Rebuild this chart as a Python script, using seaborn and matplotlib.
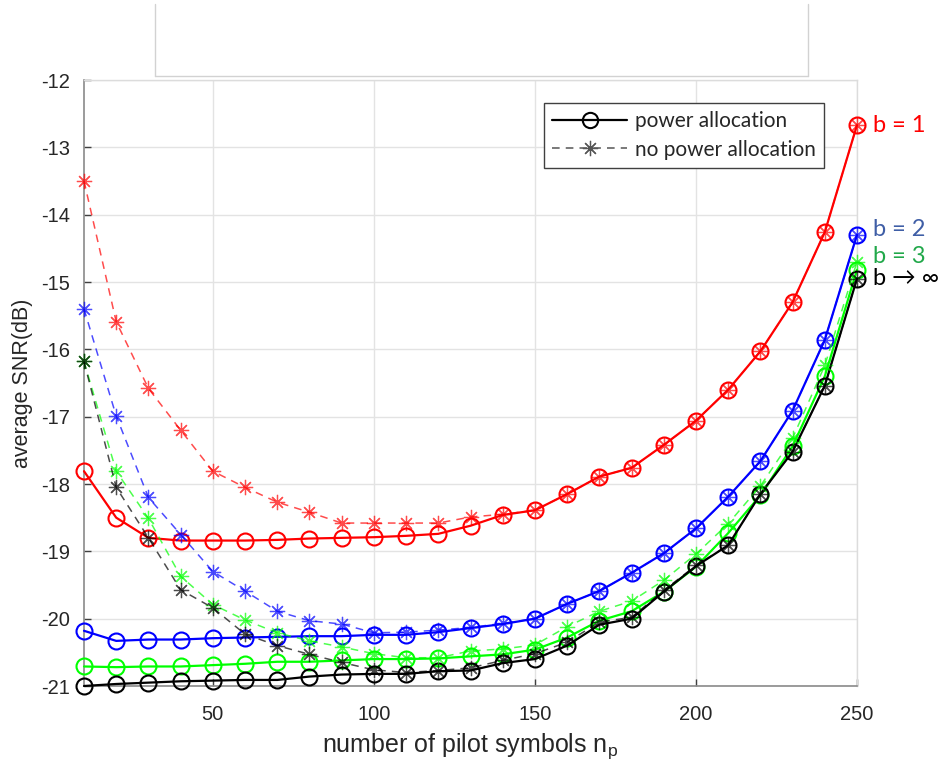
import numpy as np
import pandas as pd
import matplotlib
matplotlib.use("Agg")
import matplotlib.pyplot as plt
from matplotlib.lines import Line2D
import seaborn as sns

# --- data ---
n_pilot = [10, 20, 30, 40, 50, 60, 70, 80, 90, 100, 110, 120, 130,
           140, 150, 160, 170, 180, 190, 200, 210, 220, 230, 240, 250]

# power allocation (solid, circles)
pa_b1 = [-17.81, -18.50, -18.80, -18.84, -18.84, -18.84, -18.83, -18.81, -18.80, -18.79,
         -18.77, -18.74, -18.62, -18.46, -18.39, -18.15, -17.89, -17.76, -17.42, -17.06,
         -16.60, -16.03, -15.30, -14.26, -12.67]
pa_b2 = [-20.18, -20.33, -20.31, -20.31, -20.29, -20.28, -20.27, -20.26, -20.26, -20.24,
         -20.24, -20.20, -20.14, -20.08, -20.00, -19.78, -19.59, -19.32, -19.03, -18.66,
         -18.19, -17.66, -16.91, -15.86, -14.30]
pa_b3 = [-20.71, -20.72, -20.71, -20.71, -20.69, -20.67, -20.64, -20.64, -20.62, -20.60,
         -20.60, -20.59, -20.56, -20.53, -20.46, -20.28, -20.03, -19.89, -19.60, -19.23,
         -18.73, -18.17, -17.44, -16.40, -14.82]
pa_binf = [-21.00, -20.97, -20.95, -20.93, -20.92, -20.91, -20.91, -20.86, -20.83, -20.82,
           -20.82, -20.78, -20.77, -20.66, -20.60, -20.40, -20.09, -20.00, -19.60, -19.22,
           -18.91, -18.15, -17.52, -16.54, -14.95]

# no power allocation (dashed, asterisks)
npa_b1 = [-13.50, -15.59, -16.58, -17.20, -17.81, -18.05, -18.27, -18.42, -18.58, -18.58,
          -18.58, -18.58, -18.49, -18.45, -18.39, -18.15, -17.89, -17.76, -17.42, -17.06,
          -16.60, -16.03, -15.30, -14.26, -12.67]
npa_b2 = [-15.40, -16.99, -18.20, -18.75, -19.30, -19.59, -19.89, -20.03, -20.08, -20.21,
          -20.20, -20.17, -20.13, -20.07, -20.00, -19.78, -19.59, -19.32, -19.03, -18.66,
          -18.19, -17.66, -16.91, -15.86, -14.30]
npa_b3 = [-16.18, -17.81, -18.51, -19.37, -19.79, -20.02, -20.21, -20.33, -20.42, -20.52,
          -20.58, -20.58, -20.48, -20.45, -20.39, -20.12, -19.89, -19.74, -19.43, -19.04,
          -18.59, -18.03, -17.32, -16.24, -14.70]
npa_binf = [-16.18, -18.05, -18.80, -19.57, -19.84, -20.23, -20.40, -20.53, -20.65, -20.76,
            -20.80, -20.77, -20.73, -20.62, -20.52, -20.35, -20.05, -19.98, -19.58, -19.21,
            -18.91, -18.15, -17.52, -16.54, -14.95]

b_labels = ["b = 1", "b = 2", "b = 3", "b → ∞"]
b_label_y = [-12.67, -14.22, -14.62, -14.95]
line_colors = ["#ff0000", "#0000ff", "#00ff00", "#000000"]
label_colors = ["#ff0000", "#3f5ea6", "#21a84a", "#000000"]

x_ticks = [50, 100, 150, 200, 250]
y_ticks = [-21, -20, -19, -18, -17, -16, -15, -14, -13, -12]

# --- style ---
sns.set_style("whitegrid")
plt.rcParams['font.family'] = ['Liberation Sans', 'DejaVu Sans']
plt.rcParams['mathtext.fontset'] = 'custom'
plt.rcParams['mathtext.rm'] = 'Liberation Sans'
plt.rcParams['axes.unicode_minus'] = False

fig = plt.figure(figsize=(9.5, 7.66), dpi=100)
ax = fig.add_axes([84 / 950, 1 - 686 / 766, 773 / 950, 606 / 766])

star = (8, 2, 0)
solid_series = [pa_b1, pa_b2, pa_b3, pa_binf]
dashed_series = [npa_b1, npa_b2, npa_b3, npa_binf]

for vals, col in zip(solid_series, line_colors):
    sns.lineplot(x=n_pilot, y=vals, ax=ax, color=col, linewidth=1.6,
                 marker='o', markersize=11.5, markerfacecolor='none',
                 markeredgecolor=col, markeredgewidth=1.5, zorder=3, clip_on=False)

for vals, col in zip(dashed_series, line_colors):
    sns.lineplot(x=n_pilot, y=vals, ax=ax, color=col, linewidth=1.1,
                 linestyle=(0, (5, 4)), marker=star, markersize=11,
                 markeredgecolor=col, markeredgewidth=0.9, alpha=0.7, zorder=4,
                 clip_on=False)

ax.set_xlim(10, 250)
ax.set_ylim(-21, -12)
ax.set_xticks(x_ticks)
ax.set_yticks(y_ticks)
ax.tick_params(axis='both', which='both', direction='in', length=5, width=1,
               colors='#404040', labelsize=14.5, labelcolor='#262626',
               left=True, bottom=True, top=False, right=False)
ax.tick_params(axis='x', pad=14)
ax.tick_params(axis='y', pad=10)
ax.grid(True, color='#e3e3e3', linewidth=1)
ax.set_facecolor('white')
for side in ['left', 'bottom']:
    ax.spines[side].set_color('#8a8a8a')
    ax.spines[side].set_linewidth(1.2)
for side in ['top', 'right']:
    ax.spines[side].set_color('#dcdcdc')
    ax.spines[side].set_linewidth(1)

ax.set_xlabel('number of pilot symbols n$_\\mathregular{p}$', fontsize=18,
              color='#262626', labelpad=5)
ax.set_ylabel('average SNR(dB)', fontsize=15.5, color='#262626', labelpad=6)

# legend
handles = [
    Line2D([0], [0], color='black', linewidth=1.6, marker='o', markersize=11,
           markerfacecolor='none', markeredgewidth=1.5),
    Line2D([0], [0], color='#555555', linewidth=1.1, linestyle=(0, (5, 4)),
           marker=star, markersize=11, markeredgewidth=0.9),
]
leg = ax.legend(handles, ['power allocation', 'no power allocation'],
                loc='upper right', bbox_to_anchor=(0.957, 0.962), borderaxespad=0,
                frameon=True, fancybox=False, handlelength=3.6, handletextpad=0.35,
                borderpad=0.4, labelspacing=0.4,
                prop={'family': ['Lato', 'DejaVu Sans'], 'size': 15})
leg.get_frame().set_edgecolor('#404040')
leg.get_frame().set_linewidth(1)
leg.get_frame().set_alpha(1)

# right-side curve labels
for txt, yv, col in zip(b_labels, b_label_y, label_colors):
    ax.text(255, yv, txt, color=col, fontsize=17, va='center', ha='left',
            family=['Lato', 'DejaVu Sans'], clip_on=False)

# empty box above the axes
for xs, ys in [([155, 155], [4, 76]), ([155, 808], [76, 76]), ([808, 808], [4, 76])]:
    fig.add_artist(Line2D([x / 950 for x in xs], [1 - y / 766 for y in ys],
                          transform=fig.transFigure, color='#d2d2d2', linewidth=1))

fig.savefig('out.png', dpi=100, facecolor='white')
